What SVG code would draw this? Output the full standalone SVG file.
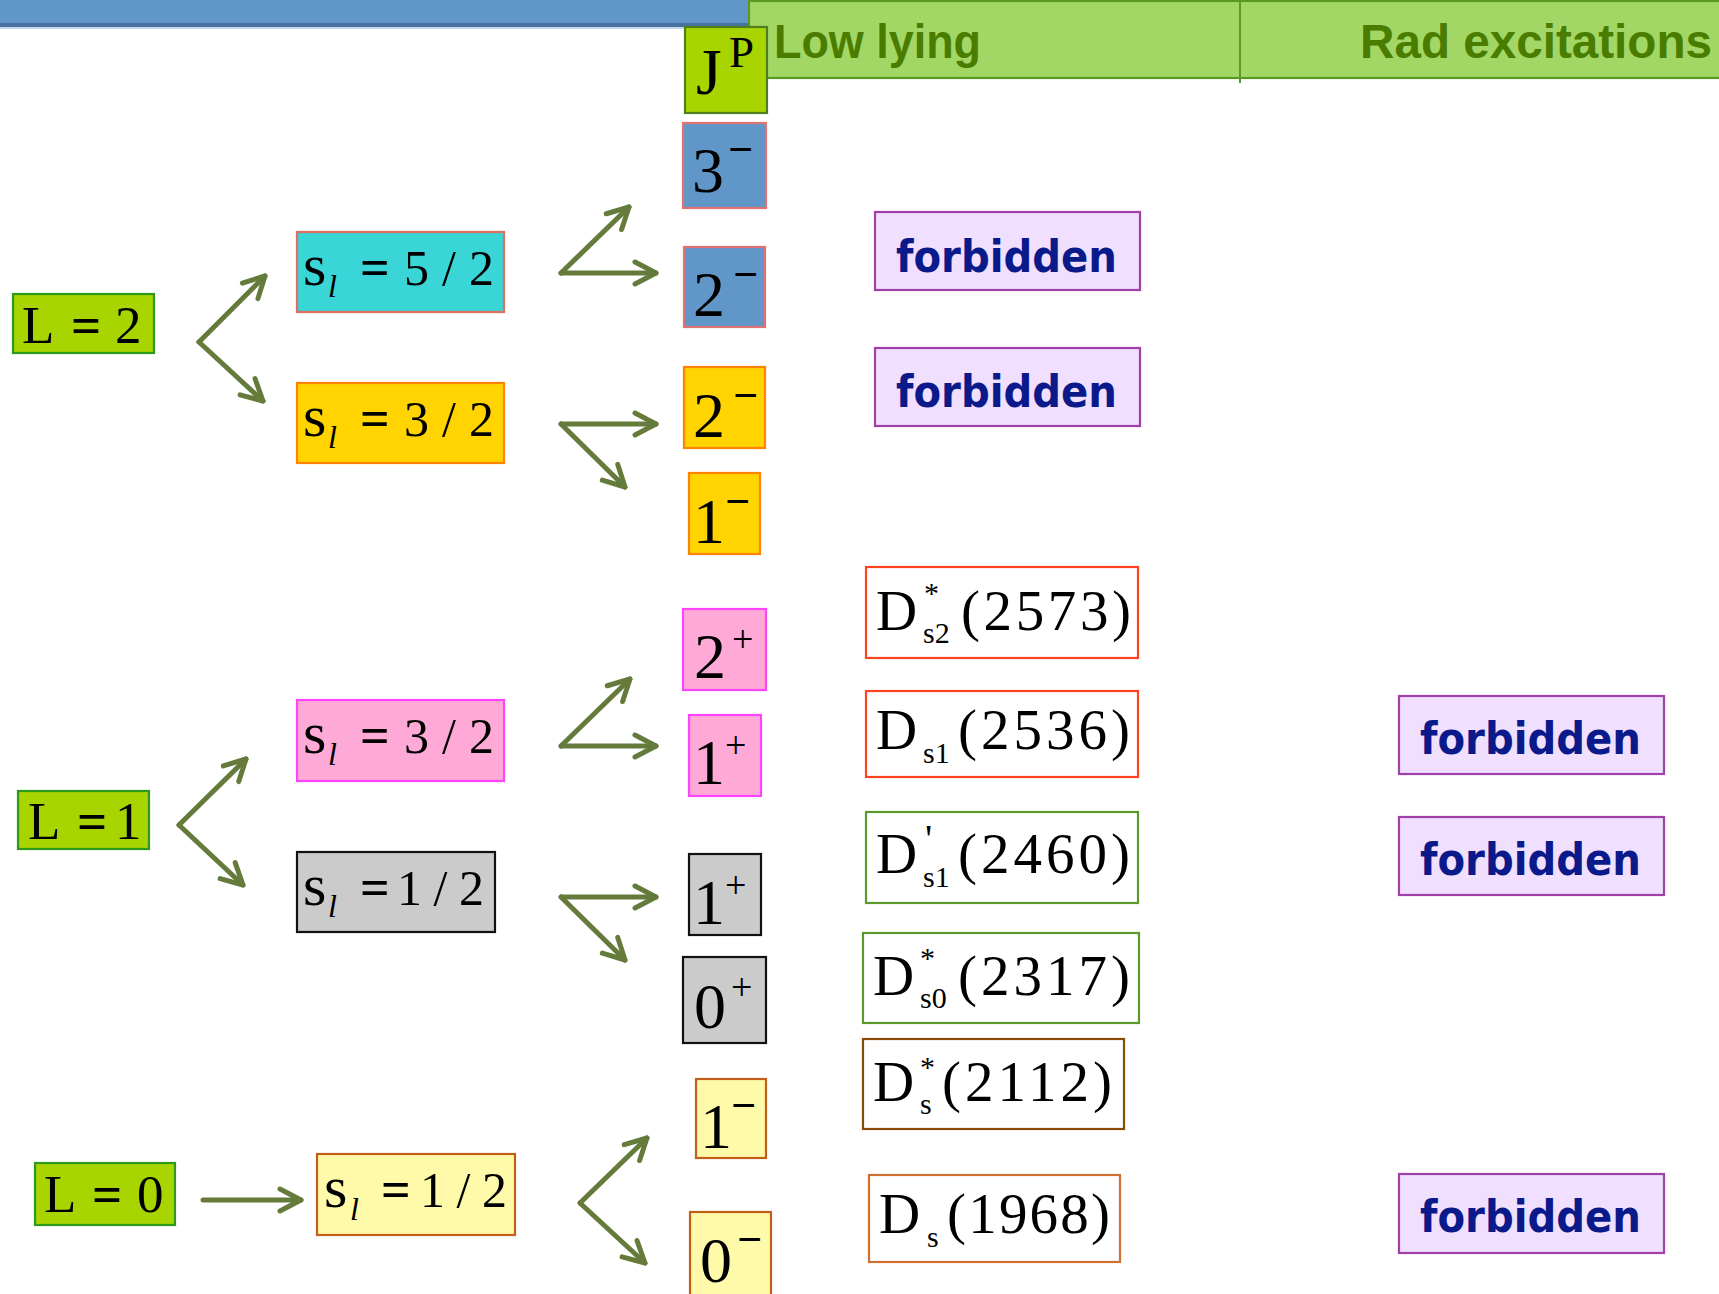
<svg xmlns="http://www.w3.org/2000/svg" width="1719" height="1294" viewBox="0 0 1719 1294">
  <style>
    .box { stroke-width: 2.2; }
    .Lbox { fill: #a8d400; stroke: #2e9a1c; }
    .jp { fill: #a8d400; stroke: #4f7f1f; }
    .cyan { fill: #3ad5d6; stroke: #e07062; }
    .blue { fill: #6096c8; stroke: #e07272; }
    .yellow { fill: #ffd400; stroke: #ff8200; }
    .pink { fill: #ffaad6; stroke: #ff44ff; }
    .gray { fill: #cbcbcb; stroke: #111111; }
    .pale { fill: #fffaaa; stroke: #c2601a; }
    .forb { fill: #f0dfff; stroke: #a040a8; }
    .state { fill: #ffffff; }
    .serif { font-family: "Liberation Serif", "Times New Roman", serif; fill: #000; }
    .hand { font-family: "DejaVu Sans", "Noto Sans", sans-serif; font-weight: bold; }
    .head { font-family: "Liberation Sans", Arial, sans-serif; font-weight: bold; }
    .ftxt { fill: #0a1a8a; font-size: 44px; }
    .htxt { fill: #4a7c00; font-size: 48px; }
    .big { font-size: 64px; }
    .minus { font-size: 44px; font-weight: bold; }
    .plus { font-size: 38px; }
    .eq { font-weight: bold; }
    .lab { font-size: 53px; }
    .dm { font-size: 57px; }
    .sub { font-size: 30px; }
    .conn { fill: none; stroke: #647b3c; stroke-width: 5; stroke-linecap: round; }
  </style>
  <defs>
    <marker id="chev" viewBox="-28 -16 32 32" refX="0" refY="0" markerWidth="32" markerHeight="32" markerUnits="userSpaceOnUse" orient="auto">
      <path d="M-21,-11 L0,0 L-21,11" fill="none" stroke="#647b3c" stroke-width="5" stroke-linecap="round" stroke-linejoin="round"/>
    </marker>
  </defs>

  <rect width="1719" height="1294" fill="#ffffff"/>

  <!-- title band -->
  <g id="band">
    <rect x="0" y="0" width="752" height="24" fill="#6096c8"/>
    <rect x="0" y="23" width="752" height="4" fill="#4a72a0"/>
    <rect x="0" y="27" width="752" height="2" fill="#c4d6ea"/>
  </g>

  <!-- column header -->
  <g id="header">
    <rect x="749" y="1" width="980" height="77" fill="#a2d766" stroke="#5a9a20" stroke-width="2.2"/>
    <line x1="1240" y1="0" x2="1240" y2="83" stroke="#5a9a20" stroke-width="2"/>
    <text class="head htxt" x="774" y="58" textLength="207" lengthAdjust="spacingAndGlyphs">Low lying</text>
    <text class="head htxt" x="1360" y="58" textLength="352" lengthAdjust="spacingAndGlyphs">Rad excitations</text>
  </g>

  <g id="jp">
    <rect class="box jp" x="685" y="27" width="82" height="86"/>
    <text class="serif"><tspan x="696" y="94" font-size="66">J</tspan><tspan x="729" y="67" font-size="45">P</tspan></text>
  </g>

  <!-- orbital levels -->
  <g id="L2">
    <rect class="box Lbox" x="13" y="294" width="141" height="59"/>
    <text class="serif lab" y="343"><tspan x="22">L</tspan><tspan class="eq" x="71">=</tspan><tspan x="115">2</tspan></text>
  </g>
  <g id="L1">
    <rect class="box Lbox" x="18" y="791" width="131" height="58"/>
    <text class="serif lab" y="839"><tspan x="28">L</tspan><tspan class="eq" x="77">=</tspan><tspan x="115">1</tspan></text>
  </g>
  <g id="L0">
    <rect class="box Lbox" x="35" y="1163" width="140" height="62"/>
    <text class="serif lab" y="1212"><tspan x="44">L</tspan><tspan class="eq" x="92">=</tspan><tspan x="137">0</tspan></text>
  </g>

  <!-- light-quark spin levels -->
  <g id="sl52">
    <rect class="box cyan" x="297" y="232" width="207" height="80"/>
    <text class="serif"><tspan x="303" y="285" font-size="60">s</tspan><tspan x="328" y="297" font-size="32" font-style="italic">l</tspan><tspan class="eq" x="360" y="285" font-size="52">=</tspan></text>
    <text class="serif" x="404" y="285" font-size="50" textLength="90" lengthAdjust="spacing">5/2</text>
  </g>
  <g id="sl32a">
    <rect class="box yellow" x="297" y="383" width="207" height="80"/>
    <text class="serif"><tspan x="303" y="436" font-size="60">s</tspan><tspan x="328" y="448" font-size="32" font-style="italic">l</tspan><tspan class="eq" x="360" y="436" font-size="52">=</tspan></text>
    <text class="serif" x="404" y="436" font-size="50" textLength="90" lengthAdjust="spacing">3/2</text>
  </g>
  <g id="sl32b">
    <rect class="box pink" x="297" y="700" width="207" height="81"/>
    <text class="serif"><tspan x="303" y="753" font-size="60">s</tspan><tspan x="328" y="765" font-size="32" font-style="italic">l</tspan><tspan class="eq" x="360" y="753" font-size="52">=</tspan></text>
    <text class="serif" x="404" y="753" font-size="50" textLength="90" lengthAdjust="spacing">3/2</text>
  </g>
  <g id="sl12a">
    <rect class="box gray" x="297" y="852" width="198" height="80"/>
    <text class="serif"><tspan x="303" y="905" font-size="60">s</tspan><tspan x="328" y="917" font-size="32" font-style="italic">l</tspan><tspan class="eq" x="360" y="905" font-size="52">=</tspan></text>
    <text class="serif" x="397" y="905" font-size="50" textLength="87" lengthAdjust="spacing">1/2</text>
  </g>
  <g id="sl12b">
    <rect class="box pale" x="317" y="1154" width="198" height="81"/>
    <text class="serif"><tspan x="324" y="1207" font-size="60">s</tspan><tspan x="350" y="1220" font-size="32" font-style="italic">l</tspan><tspan class="eq" x="381" y="1207" font-size="52">=</tspan></text>
    <text class="serif" x="420" y="1207" font-size="50" textLength="87" lengthAdjust="spacing">1/2</text>
  </g>

  <!-- J^P states -->
  <g id="j3m">
    <rect class="box blue" x="683" y="123" width="83" height="85"/>
    <text class="serif"><tspan class="big" x="692" y="192">3</tspan><tspan class="minus" x="728" y="164">−</tspan></text>
  </g>
  <g id="j2m-a">
    <rect class="box blue" x="684" y="247" width="81" height="80"/>
    <text class="serif"><tspan class="big" x="693" y="316">2</tspan><tspan class="minus" x="733" y="289">−</tspan></text>
  </g>
  <g id="j2m-b">
    <rect class="box yellow" x="684" y="367" width="81" height="81"/>
    <text class="serif"><tspan class="big" x="693" y="437">2</tspan><tspan class="minus" x="733" y="410">−</tspan></text>
  </g>
  <g id="j1m-a">
    <rect class="box yellow" x="689" y="473" width="71" height="81"/>
    <text class="serif"><tspan class="big" x="693" y="543">1</tspan><tspan class="minus" x="725" y="516">−</tspan></text>
  </g>
  <g id="j2p">
    <rect class="box pink" x="683" y="609" width="83" height="81"/>
    <text class="serif"><tspan class="big" x="694" y="678">2</tspan><tspan class="plus" x="732" y="652">+</tspan></text>
  </g>
  <g id="j1p-a">
    <rect class="box pink" x="689" y="715" width="72" height="81"/>
    <text class="serif"><tspan class="big" x="693" y="784">1</tspan><tspan class="plus" x="725" y="758">+</tspan></text>
  </g>
  <g id="j1p-b">
    <rect class="box gray" x="689" y="854" width="72" height="81"/>
    <text class="serif"><tspan class="big" x="693" y="924">1</tspan><tspan class="plus" x="725" y="898">+</tspan></text>
  </g>
  <g id="j0p">
    <rect class="box gray" x="683" y="957" width="83" height="86"/>
    <text class="serif"><tspan class="big" x="694" y="1028">0</tspan><tspan class="plus" x="731" y="1000">+</tspan></text>
  </g>
  <g id="j1m-b">
    <rect class="box pale" x="696" y="1079" width="70" height="79"/>
    <text class="serif"><tspan class="big" x="700" y="1148">1</tspan><tspan class="minus" x="731" y="1120">−</tspan></text>
  </g>
  <g id="j0m">
    <rect class="box pale" x="690" y="1212" width="81" height="90"/>
    <text class="serif"><tspan class="big" x="700" y="1282">0</tspan><tspan class="minus" x="737" y="1254">−</tspan></text>
  </g>

  <!-- observed states -->
  <g id="ds2573">
    <rect class="box state" x="866" y="567" width="272" height="91" stroke="#ff4422"/>
    <text class="serif"><tspan class="dm" x="876" y="630">D</tspan><tspan class="sub" x="924" y="603">*</tspan><tspan class="sub" x="923" y="643">s2</tspan></text>
    <text class="serif dm" x="961" y="630" textLength="170" lengthAdjust="spacing">(2573)</text>
  </g>
  <g id="ds2536">
    <rect class="box state" x="866" y="691" width="272" height="86" stroke="#ff4422"/>
    <text class="serif"><tspan class="dm" x="876" y="749">D</tspan><tspan class="sub" x="923" y="763">s1</tspan></text>
    <text class="serif dm" x="958" y="749" textLength="172" lengthAdjust="spacing">(2536)</text>
  </g>
  <g id="ds2460">
    <rect class="box state" x="866" y="812" width="272" height="91" stroke="#5a9a2a"/>
    <text class="serif"><tspan class="dm" x="876" y="873">D</tspan><tspan x="925" y="852" font-size="40">'</tspan><tspan class="sub" x="923" y="887">s1</tspan></text>
    <text class="serif dm" x="958" y="873" textLength="172" lengthAdjust="spacing">(2460)</text>
  </g>
  <g id="ds2317">
    <rect class="box state" x="863" y="933" width="276" height="90" stroke="#5a9a2a"/>
    <text class="serif"><tspan class="dm" x="873" y="995">D</tspan><tspan class="sub" x="920" y="968">*</tspan><tspan class="sub" x="920" y="1008">s0</tspan></text>
    <text class="serif dm" x="958" y="995" textLength="172" lengthAdjust="spacing">(2317)</text>
  </g>
  <g id="ds2112">
    <rect class="box state" x="863" y="1039" width="261" height="90" stroke="#8a4a08"/>
    <text class="serif"><tspan class="dm" x="873" y="1101">D</tspan><tspan class="sub" x="920" y="1077">*</tspan><tspan class="sub" x="920" y="1114">s</tspan></text>
    <text class="serif dm" x="942" y="1101" textLength="170" lengthAdjust="spacing">(2112)</text>
  </g>
  <g id="ds1968">
    <rect class="box state" x="869" y="1175" width="251" height="87" stroke="#d07030"/>
    <text class="serif"><tspan class="dm" x="879" y="1233">D</tspan><tspan class="sub" x="927" y="1247">s</tspan></text>
    <text class="serif dm" x="947" y="1233" textLength="163" lengthAdjust="spacing">(1968)</text>
  </g>

  <!-- forbidden entries -->
  <g id="forb1">
    <rect class="box forb" x="875" y="212" width="265" height="78"/>
    <text class="hand ftxt" x="896" y="272" textLength="221" lengthAdjust="spacingAndGlyphs">forbidden</text>
  </g>
  <g id="forb2">
    <rect class="box forb" x="875" y="348" width="265" height="78"/>
    <text class="hand ftxt" x="896" y="407" textLength="221" lengthAdjust="spacingAndGlyphs">forbidden</text>
  </g>
  <g id="forb3">
    <rect class="box forb" x="1399" y="696" width="265" height="78"/>
    <text class="hand ftxt" x="1420" y="754" textLength="221" lengthAdjust="spacingAndGlyphs">forbidden</text>
  </g>
  <g id="forb4">
    <rect class="box forb" x="1399" y="817" width="265" height="78"/>
    <text class="hand ftxt" x="1420" y="875" textLength="221" lengthAdjust="spacingAndGlyphs">forbidden</text>
  </g>
  <g id="forb5">
    <rect class="box forb" x="1399" y="1174" width="265" height="79"/>
    <text class="hand ftxt" x="1420" y="1232" textLength="221" lengthAdjust="spacingAndGlyphs">forbidden</text>
  </g>

  <!-- splitting arrows -->
  <g id="connectors" class="conn" marker-end="url(#chev)">
    <path d="M199,342 L265,276"/>
    <path d="M199,342 L263,401"/>
    <path d="M561,273 L629,207"/>
    <path d="M561,273 L656,273"/>
    <path d="M561,424 L656,424"/>
    <path d="M561,424 L625,487"/>
    <path d="M179,825 L246,759"/>
    <path d="M179,825 L243,885"/>
    <path d="M561,746 L630,679"/>
    <path d="M561,746 L656,746"/>
    <path d="M561,897 L656,897"/>
    <path d="M561,897 L625,960"/>
    <path d="M203,1200 L301,1200"/>
    <path d="M580,1203 L647,1138"/>
    <path d="M580,1203 L645,1263"/>
  </g>
</svg>
